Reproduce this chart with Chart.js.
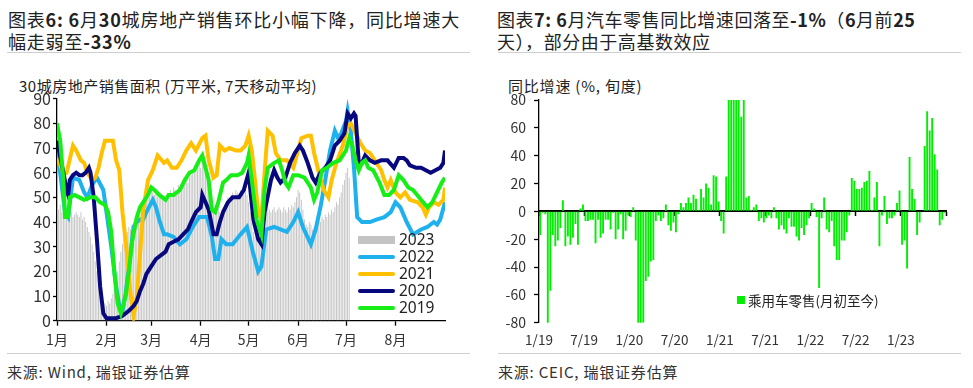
<!DOCTYPE html>
<html lang="zh-CN">
<head>
<meta charset="utf-8">
<title>30城房地产销售与乘用车零售</title>
<script src="https://cdn.jsdelivr.net/npm/chart.js@4.4.1/dist/chart.umd.min.js"></script>
<style>
  body { margin: 0; background: #fff; }
  #page { position: relative; width: 973px; height: 388px; overflow: hidden;
          font-family: "Noto Sans CJK SC", "Noto Sans", sans-serif; color: #222; }
  .title { position: absolute; top: 9px; font-size: 18px; line-height: 21.5px; white-space: nowrap; }
  .title b { font-weight: 700; }
  .rule { position: absolute; height: 0; border-top: 1.5px solid #cfcfcf; }
  .unit { position: absolute; top: 75px; font-size: 15px; white-space: nowrap; color: #222; }
  .source { position: absolute; top: 361px; font-size: 15px; white-space: nowrap; color: #333; letter-spacing: 0.8px; }
  canvas { position: absolute; }
</style>
</head>
<body>
<div id="page">
  <div class="title" style="left:8px;letter-spacing:0.8px">图表<b>6:</b> <b>6</b>月<b>30</b>城房地产销售环比小幅下降，同比增速大<br>幅走弱至<b>-33%</b></div>
  <div class="title" style="left:497px;letter-spacing:0.55px">图表<b>7:</b> <b>6</b>月汽车零售同比增速回落至<b>-1%</b>（<b>6</b>月前<b>25</b><br>天），部分由于高基数效应</div>
  <div class="rule" style="left:7px;top:52px;width:463px"></div>
  <div class="rule" style="left:498px;top:52px;width:463px"></div>
  <div class="unit" style="left:19px;letter-spacing:0.5px">30城房地产销售面积 (万平米, 7天移动平均)</div>
  <div class="unit" style="left:508px;letter-spacing:0.8px">同比增速 (%, 旬度)</div>
  <canvas id="houseChart" width="480" height="285" style="left:0;top:70px"></canvas>
  <canvas id="carChart" width="483" height="285" style="left:490px;top:70px"></canvas>
  <div class="rule" style="left:7px;top:353px;width:463px"></div>
  <div class="rule" style="left:498px;top:353px;width:463px"></div>
  <div class="source" style="left:7px">来源: Wind, 瑞银证券估算</div>
  <div class="source" style="left:498px">来源: CEIC, 瑞银证券估算</div>
</div>
<script>
// 左图：30城房地产销售面积（万平米，7天移动平均），横轴为1月1日起的天数
const monthStarts = [0, 31, 59, 90, 120, 151, 181, 212];
const monthLabels = ['1月', '2月', '3月', '4月', '5月', '6月', '7月', '8月'];

// 2023年：逐日柱
const sales2023 = [
  46, 45, 47, 44, 45, 43, 44, 45, 43, 44, 42, 43, 44, 43, 42, 44, 41, 42, 40,
  38, 36, 34, 31, 28, 24, 20, 17, 13, 10, 8, 7, 6, 8, 7, 9, 11, 13,
  16, 20, 24, 28, 31, 33, 35, 36, 38, 37, 39, 40, 42, 41,
  44, 46, 48, 47, 50, 51, 52, 50, 53, 52, 51, 53, 50, 52, 51, 49, 51, 50,
  52, 51, 53, 52, 54, 53, 52, 55, 54, 53, 56, 55, 57, 56, 58,
  59, 60, 62, 61, 63, 64, 62, 65, 63, 61, 57, 52, 50, 48, 46, 47, 45, 46, 44, 45, 46, 47,
  48, 50, 49, 51, 52, 50, 53, 52, 51, 53, 52, 54, 53, 51,
  48, 44, 40, 36, 34, 35, 38, 41, 43, 44, 45,
  44, 46, 45, 44, 45, 46, 44, 45, 46, 45, 44, 46, 45, 44, 46, 45, 47, 46, 48, 50,
  53, 52, 49, 45, 41, 39, 38, 40, 39, 37, 38, 40, 39, 41, 40, 42, 41, 43, 42, 44,
  43, 45, 44, 46, 48, 47, 50, 52, 55, 57, 60, 62, 58
];

const days2022 = [0, 2, 5, 7, 10, 14, 17, 19, 22, 25, 29, 31, 34, 37, 39, 41, 43, 46, 48, 50, 52, 54, 56, 60, 62, 64, 67, 69, 73, 77, 81, 85, 89, 94, 97, 99, 101, 103, 106, 110, 115, 119, 123, 126, 128, 131, 136, 140, 144, 148, 151, 154, 159, 162, 165, 168, 171, 174, 176, 178, 181, 182, 184, 186, 188, 191, 196, 200, 205, 209, 212, 215, 219, 223, 228, 232, 236, 238, 240, 243];
const sales2022 = [68, 60, 44, 42, 58, 57, 52, 50, 55, 58, 53, 44, 30, 14, 6, 4, 11, 27, 38, 40, 41, 41, 44, 49, 46, 41, 35, 35, 34, 31, 33, 38, 42, 42, 34, 25, 25, 33, 31, 31, 35, 38, 27, 20, 22, 37, 38, 37, 36, 40, 44, 38, 31, 37, 46, 57, 69, 77, 74, 76, 81, 85, 77, 62, 42, 40, 40, 41, 42, 44, 48, 46, 40, 35, 37, 38, 40, 39, 41, 48];

const days2021 = [0, 4, 6, 10, 12, 15, 17, 19, 22, 24, 26, 28, 30, 33, 35, 37, 39, 41, 44, 46, 48, 50, 52, 54, 57, 60, 63, 67, 69, 72, 75, 78, 81, 84, 87, 91, 93, 95, 98, 100, 102, 105, 108, 112, 115, 118, 120, 122, 124, 126, 128, 130, 132, 135, 137, 140, 144, 148, 151, 153, 157, 159, 161, 164, 167, 170, 172, 175, 179, 182, 184, 187, 190, 193, 196, 199, 203, 205, 207, 209, 212, 215, 218, 221, 226, 229, 231, 233, 236, 239, 242, 243];
const sales2021 = [66, 60, 60, 71, 69, 65, 64, 60, 57, 58, 62, 68, 73, 73, 73, 65, 61, 44, 26, 11, 2, 10, 27, 45, 57, 61, 67, 64, 65, 62, 62, 65, 69, 72, 69, 74, 75, 65, 58, 59, 71, 69, 70, 69, 69, 71, 75, 69, 57, 44, 41, 60, 77, 75, 68, 65, 65, 62, 69, 74, 75, 75, 68, 60, 53, 50, 57, 64, 71, 79, 80, 76, 72, 69, 68, 65, 61, 57, 54, 57, 52, 50, 52, 49, 48, 46, 43, 46, 48, 47, 49, 54];

const days2020 = [0, 4, 6, 7, 8, 10, 12, 14, 16, 18, 20, 21, 23, 25, 27, 29, 31, 34, 37, 41, 45, 48, 50, 52, 54, 56, 59, 62, 66, 68, 70, 73, 76, 79, 82, 84, 87, 90, 91, 93, 95, 98, 100, 102, 104, 107, 110, 114, 117, 120, 123, 126, 128, 130, 134, 136, 138, 140, 143, 146, 149, 152, 154, 157, 160, 162, 165, 168, 171, 174, 177, 180, 182, 184, 186, 187, 189, 191, 193, 196, 199, 203, 207, 211, 214, 217, 219, 221, 225, 228, 231, 234, 237, 240, 242, 243];
const sales2020 = [73, 60, 53, 51, 57, 59, 60, 59, 59, 60, 62, 60, 50, 33, 14, 3, 1, 1, 1, 2, 4, 6, 8, 12, 15, 19, 22, 25, 27, 28, 31, 32, 33, 35, 37, 40, 44, 46, 51, 48, 45, 35, 35, 40, 44, 48, 50, 50, 53, 60, 41, 33, 31, 44, 57, 61, 58, 56, 58, 64, 68, 71, 69, 64, 58, 56, 60, 62, 65, 71, 73, 76, 84, 82, 84, 83, 64, 64, 67, 65, 64, 65, 65, 62, 66, 66, 65, 63, 62, 62, 61, 60, 61, 62, 64, 69];

const days2019 = [0, 2, 4, 5, 7, 8, 11, 14, 17, 21, 24, 27, 30, 32, 34, 36, 38, 40, 43, 45, 47, 50, 52, 55, 57, 59, 61, 64, 68, 70, 73, 77, 80, 83, 86, 89, 91, 93, 95, 97, 99, 101, 104, 106, 109, 113, 116, 119, 120, 122, 125, 128, 130, 132, 136, 139, 141, 143, 145, 148, 151, 155, 159, 161, 163, 166, 169, 173, 177, 181, 183, 185, 187, 189, 191, 193, 195, 198, 202, 205, 208, 211, 214, 217, 220, 223, 228, 232, 235, 238, 241, 243];
const sales2019 = [80, 73, 57, 42, 42, 50, 51, 50, 49, 50, 50, 48, 47, 44, 36, 19, 7, 3, 10, 20, 32, 42, 46, 49, 51, 54, 53, 51, 49, 51, 51, 53, 57, 60, 61, 65, 67, 62, 57, 45, 44, 48, 56, 57, 59, 59, 60, 64, 67, 57, 41, 35, 53, 62, 64, 65, 61, 56, 54, 59, 59, 58, 54, 49, 52, 61, 62, 64, 65, 69, 74, 71, 65, 61, 64, 65, 62, 61, 56, 51, 51, 53, 59, 57, 54, 53, 49, 46, 48, 52, 56, 58];

// 右图：乘用车零售同比（%，旬度），2019年1月上旬起，每半年18旬
const periodTicks = [0, 18, 36, 54, 72, 90, 108, 126, 144, 162];
const periodLabels = ['1/19', '7/19', '1/20', '7/20', '1/21', '7/21', '1/22', '7/22', '1/23', ''];
const carRetailYoy = [
  -17, -1, -2, -82, -57, -17, -25, -21, -12, 8, -25, -18, -24, -19, -9, -24, 2, 5,
  -7, -7, -6, -6, -23, -6, -19, -16, -6, -6, -13, -1, -20, -13, -2, -20, -14, -3,
  -4, 3, -21, -82, -82, -80, -50, -47, -36, -35, -7, -3, -7, -5, 5, -10, -14, -8,
  -15, -2, 6, 3, 6, 10, 6, 12, 9, 1, 16, 10, 20, 17, 5, 26, 25, 7,
  -7, -16, 25, 88, 90, 92, 88, 86, 68, 89, 10, 11, 1, 3, 5, -7, -5, -8,
  -5, -3, -5, 3, -5, -13, -10, -13, -16, -5, -11, -11, -18, -21, -12, -17, -10, -5,
  6, 2, -4, -55, -5, 10, -13, -15, -7, -25, -35, -35, -21, -21, -15, -3, 24, 22,
  16, 16, 17, 21, 22, 29, 1, 10, 21, -25, -3, 11, -9, -5, -5, -3, 6, 15,
  -24, -21, -41, 39, 16, 9, -17, -8, 0, 47, 72, 58, 67, 41, 30, -10, -6, -1
];

Chart.defaults.font.family = '"Noto Sans CJK SC", "Noto Sans", sans-serif';
Chart.defaults.color = '#333';

// 图例：按数据集顺序逐行画出
const boxLegend = {
  id: 'boxLegend',
  afterDraw(chart, args, opts) {
    const { ctx, chartArea } = chart;
    const x = chartArea.left + opts.x;
    let y = chartArea.top + opts.y;
    ctx.save();
    ctx.font = opts.font;
    ctx.textBaseline = 'middle';
    chart.data.datasets.forEach((ds) => {
      if (ds.type === 'line') {
        ctx.strokeStyle = ds.borderColor;
        ctx.lineWidth = ds.borderWidth;
        ctx.lineCap = 'round';
        ctx.beginPath();
        ctx.moveTo(x + 2, y);
        ctx.lineTo(x + opts.sample - 2, y);
        ctx.stroke();
      } else {
        ctx.fillStyle = ds.backgroundColor;
        ctx.fillRect(x, y - opts.boxH / 2, opts.boxW, opts.boxH);
      }
      ctx.fillStyle = '#222';
      ctx.fillText(ds.label, x + opts.sample + opts.gap, y + 1);
      y += opts.row;
    });
    ctx.restore();
  },
};

function yearLine(label, days, values, color, order) {
  return {
    type: 'line',
    label: label,
    data: days.map((d, i) => ({ x: d, y: values[i] })),
    borderColor: color,
    backgroundColor: color,
    borderWidth: 4,
    pointRadius: 0,
    tension: 0,
    order: order,
  };
}

new Chart(document.getElementById('houseChart'), {
  data: {
    datasets: [
      {
        type: 'bar',
        label: '2023',
        data: sales2023.map((v, i) => ({ x: i, y: v })),
        backgroundColor: '#c4c4c4',
        barPercentage: 0.6,
        categoryPercentage: 1,
        order: 5,
      },
      yearLine('2022', days2022, sales2022, '#1fb1ee', 4),
      yearLine('2021', days2021, sales2021, '#ffc000', 3),
      yearLine('2020', days2020, sales2020, '#08087e', 2),
      yearLine('2019', days2019, sales2019, '#17ee17', 1),
    ],
  },
  options: {
    responsive: false,
    animation: false,
    layout: { padding: { top: 28.7, right: 35, left: 0, bottom: 0 } },
    plugins: {
      legend: { display: false },
      tooltip: { enabled: false },
      boxLegend: { x: 301, y: 141.3, row: 17, sample: 37, boxW: 37, boxH: 8, gap: 4, font: '15.5px "Noto Sans", sans-serif' },
    },
    scales: {
      x: {
        type: 'linear',
        min: 0,
        max: 243,
        offset: false,
        afterBuildTicks: (s) => { s.ticks = monthStarts.map((v) => ({ value: v })); },
        afterFit: (s) => { s.height = 34.3; },
        ticks: {
          autoSkip: false,
          maxRotation: 0,
          padding: 6,
          color: '#333',
          font: { size: 14 },
          callback: (v) => monthLabels[monthStarts.indexOf(v)],
        },
        grid: { offset: false, drawOnChartArea: false, tickLength: 5, tickColor: '#000', tickWidth: 1.3 },
        border: { color: '#000', width: 1.3 },
      },
      y: {
        min: 0,
        max: 90,
        afterFit: (s) => { s.width = 57; },
        ticks: { stepSize: 10, padding: 2, color: '#333', font: { size: 16 } },
        grid: { drawOnChartArea: false, tickLength: 4, tickColor: '#000', tickWidth: 1.3 },
        border: { color: '#000', width: 1.3 },
      },
    },
  },
  plugins: [boxLegend],
});

new Chart(document.getElementById('carChart'), {
  type: 'bar',
  data: {
    datasets: [
      {
        label: '乘用车零售(月初至今)',
        data: carRetailYoy.map((v, i) => ({ x: i + 0.5, y: v })),
        backgroundColor: '#00ee00',
        barPercentage: 0.75,
        categoryPercentage: 1,
        xAxisID: 'x',
      },
    ],
  },
  options: {
    responsive: false,
    animation: false,
    layout: { padding: { top: 30, right: 27, left: 0, bottom: 0 } },
    plugins: {
      legend: { display: false },
      tooltip: { enabled: false },
      boxLegend: { x: 198, y: 200, row: 17, sample: 8, boxW: 8, boxH: 8, gap: 3, font: '13.5px "Noto Sans CJK SC", sans-serif' },
    },
    scales: {
      x: {
        type: 'linear',
        position: { y: 0 },
        min: 0,
        max: 162,
        offset: false,
        afterBuildTicks: (s) => { s.ticks = periodTicks.map((v) => ({ value: v })); },
        ticks: { display: false },
        grid: { offset: false, drawOnChartArea: false, tickLength: 4, tickColor: '#000', tickWidth: 1.5 },
        border: { color: '#000', width: 2 },
      },
      x2: {
        type: 'linear',
        position: 'bottom',
        min: 0,
        max: 162,
        offset: false,
        afterBuildTicks: (s) => { s.ticks = periodTicks.map((v) => ({ value: v })); },
        afterFit: (s) => { s.height = 32.3; },
        ticks: {
          autoSkip: false,
          maxRotation: 0,
          padding: 9,
          color: '#333',
          font: { size: 13.5 },
          callback: (v) => periodLabels[periodTicks.indexOf(v)],
        },
        grid: { display: false, drawTicks: false },
        border: { display: false },
      },
      y: {
        min: -80,
        max: 80,
        afterFit: (s) => { s.width = 49; },
        ticks: { stepSize: 20, padding: 8, color: '#333', font: { size: 14 } },
        grid: { drawOnChartArea: false, tickLength: 5, tickColor: '#000', tickWidth: 1.3 },
        border: { color: '#000', width: 1.3 },
      },
    },
  },
  plugins: [boxLegend],
});
</script>
</body>
</html>
